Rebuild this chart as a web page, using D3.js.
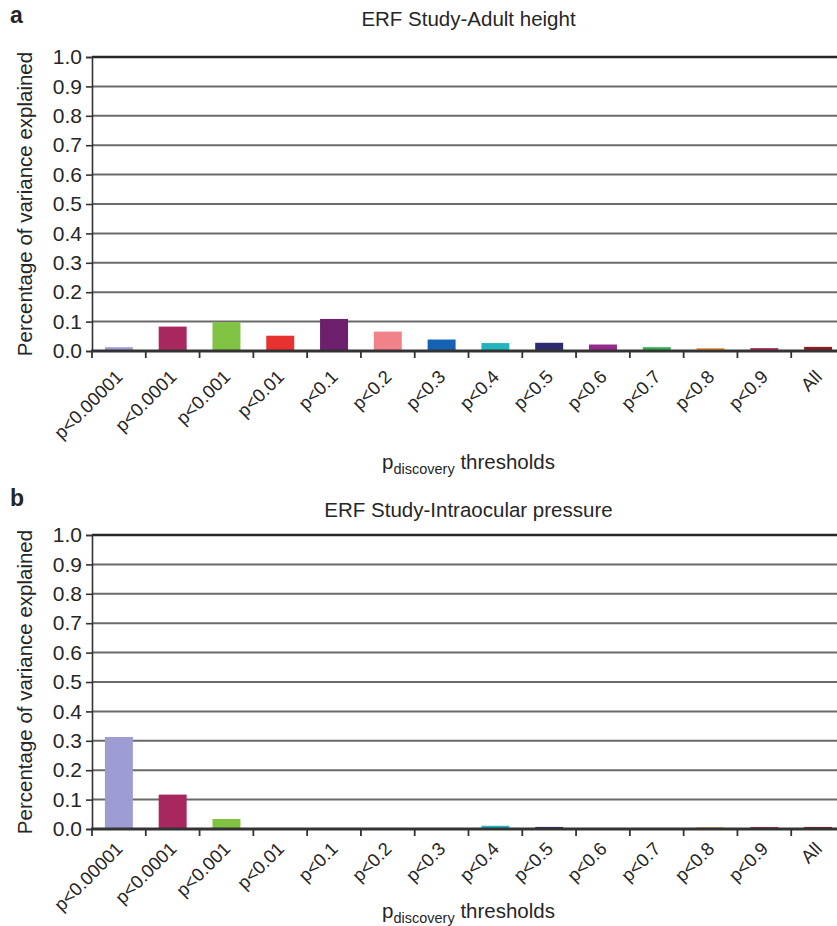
<!DOCTYPE html>
<html>
<head>
<meta charset="utf-8">
<script src="https://cdn.jsdelivr.net/npm/d3@7/dist/d3.min.js"></script>
<style>
  html, body { margin: 0; padding: 0; background: #fff; }
  svg { display: block; }
  text { font-family: "Liberation Sans", Arial, Helvetica, sans-serif; fill: #262626; }
</style>
</head>
<body>
<svg id="chart" width="837" height="926"></svg>
<script>
// ---- data ----
const categories = ["p<0.00001", "p<0.0001", "p<0.001", "p<0.01", "p<0.1", "p<0.2", "p<0.3",
                    "p<0.4", "p<0.5", "p<0.6", "p<0.7", "p<0.8", "p<0.9", "All"];
const heightValues = [0.013, 0.083, 0.098, 0.052, 0.109, 0.066, 0.039,
                      0.027, 0.028, 0.022, 0.013, 0.010, 0.010, 0.014];
const iopValues = [0.313, 0.117, 0.034, 0.001, 0.001, 0.001, 0.001,
                   0.011, 0.007, 0.001, 0.001, 0.006, 0.007, 0.007];
const barColors = ["#9d9dd3", "#a8275f", "#80c242", "#e83131", "#6e1f6e", "#f2828a", "#1462b3",
                   "#22b5be", "#2b2a6e", "#962a8a", "#35ae4f", "#f0a04a", "#b5305e", "#8c1c22"];
const yTicks = [0, 0.1, 0.2, 0.3, 0.4, 0.5, 0.6, 0.7, 0.8, 0.9, 1.0];
const panels = [
  { letter: "a", title: "ERF Study-Adult height", values: heightValues,
    top: 57, bottom: 351, letterY: 23, titleY: 26, labelOff: 27, xTitleY: 469 },
  { letter: "b", title: "ERF Study-Intraocular pressure", values: iopValues,
    top: 535, bottom: 829, letterY: 506, titleY: 517, labelOff: 21, xTitleY: 918 }
];

const svg = d3.select("#chart");
const left = 92, right = 845;

panels.forEach(p => {
  const g = svg.append("g");
  const x = d3.scaleBand().domain(categories).range([left, right]).padding(0);
  const y = d3.scaleLinear().domain([0, 1]).range([p.bottom, p.top]);

  // panel letter & title
  g.append("text").attr("x", 10).attr("y", p.letterY)
    .style("font-size", "23px").style("font-weight", "bold").attr("fill", "#111").text(p.letter);
  g.append("text").attr("x", (left + right) / 2 - 0).attr("y", p.titleY)
    .attr("text-anchor", "middle").style("font-size", "20.5px").text(p.title);

  // gridlines
  g.append("g").selectAll("line").data(yTicks.filter(t => t > 0)).join("line")
    .attr("x1", left).attr("x2", 837)
    .attr("y1", d => y(d)).attr("y2", d => y(d))
    .attr("stroke", d => d === 1 ? "#262626" : "#6a6a6a")
    .attr("stroke-width", d => d === 1 ? 2.6 : 2);

  // bars
  const bw = x.bandwidth() * 0.52;
  g.append("g").selectAll("rect").data(p.values).join("rect")
    .attr("x", (d, i) => x(categories[i]) + x.bandwidth() / 2 - bw / 2)
    .attr("width", bw)
    .attr("y", d => y(d))
    .attr("height", d => y(0) - y(d))
    .attr("fill", (d, i) => barColors[i]);

  // y axis
  const yAxis = d3.axisLeft(y).tickValues(yTicks).tickFormat(d3.format(".1f"))
    .tickSize(6).tickPadding(4);
  const ya = g.append("g").attr("transform", `translate(${left},0)`).call(yAxis);
  ya.select(".domain").attr("stroke", "#333").attr("stroke-width", 1.6);
  ya.selectAll(".tick line").attr("stroke", "#333").attr("stroke-width", 1.6);
  ya.selectAll(".tick text").style("font-size", "21px").attr("fill", "#262626")
    .attr("font-family", null);

  // x axis baseline + ticks at band boundaries
  const bounds = categories.map(c => x(c));
  g.append("g").selectAll("line").data(bounds).join("line")
    .attr("x1", d => d).attr("x2", d => d)
    .attr("y1", y(0)).attr("y2", y(0) + 7)
    .attr("stroke", "#333").attr("stroke-width", 1.8);
  g.append("line").attr("x1", left - 1).attr("x2", 837)
    .attr("y1", y(0)).attr("y2", y(0))
    .attr("stroke", "#333").attr("stroke-width", 3);

  // x tick labels
  g.append("g").selectAll("text").data(categories).join("text")
    .attr("transform", c => `translate(${x(c) + x.bandwidth() / 2 + 5},${y(0) + p.labelOff}) rotate(-45)`)
    .attr("text-anchor", "end")
    .style("font-size", "18.5px")
    .text(c => c);

  // x axis title
  const xt = g.append("text").attr("x", (left + right) / 2).attr("y", p.xTitleY)
    .attr("text-anchor", "middle").style("font-size", "20.5px");
  xt.append("tspan").text("p");
  xt.append("tspan").attr("dy", 5).style("font-size", "14.5px").text("discovery");
  xt.append("tspan").attr("dy", -5).text(" thresholds");

  // y axis title
  g.append("text")
    .attr("transform", `translate(32,${(p.top + p.bottom) / 2}) rotate(-90)`)
    .attr("text-anchor", "middle").style("font-size", "20.5px")
    .text("Percentage of variance explained");
});
</script>
</body>
</html>
